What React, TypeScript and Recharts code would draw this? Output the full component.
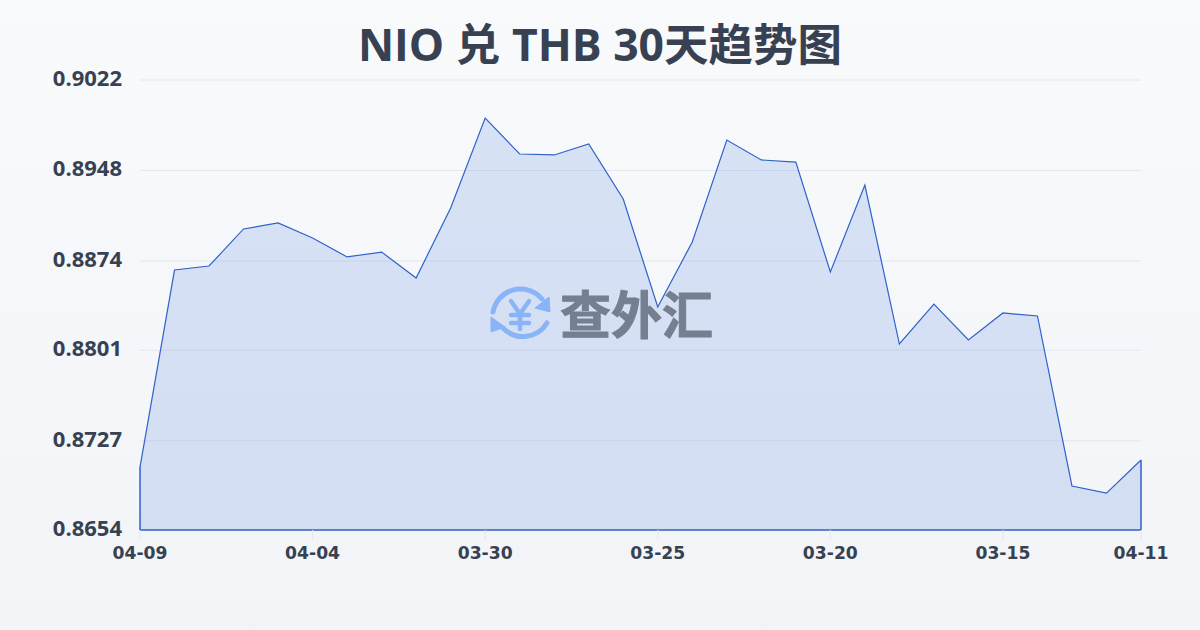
import { Area, AreaChart, CartesianGrid, ReferenceLine, XAxis, YAxis } from 'recharts';

const dates = [
  '04-09', '04-08', '04-07', '04-06', '04-05', '04-04', '04-03', '04-02', '04-01', '03-31',
  '03-30', '03-29', '03-28', '03-27', '03-26', '03-25', '03-24', '03-23', '03-22', '03-21',
  '03-20', '03-19', '03-18', '03-17', '03-16', '03-15', '03-14', '03-13', '03-12', '04-11',
];
const rates = [
  0.87055, 0.88666, 0.88699, 0.89002, 0.89051, 0.88928, 0.88773, 0.88813, 0.88601, 0.89173,
  0.89909, 0.89615, 0.89607, 0.89697, 0.89247, 0.88364, 0.88895, 0.89729, 0.89566, 0.89549,
  0.8865, 0.89361, 0.88061, 0.88388, 0.88094, 0.88315, 0.8829, 0.869, 0.86842, 0.87112,
];
const xTicks = ['04-09', '04-04', '03-30', '03-25', '03-20', '03-15', '04-11'];
const yTicks = [0.8654, 0.8727, 0.8801, 0.8874, 0.8948, 0.9022];

const data = dates.map((date, i) => ({ date, rate: rates[i] }));
const FONT = '"Open Sans", "Noto Sans CJK SC", sans-serif';
const LINE = '#2f62c9';
const TEXT = '#374151';
const ICON = '#8ab4f8';

function Watermark() {
  return (
    <svg width={1200} height={630} style={{ position: 'absolute', left: 0, top: 0, pointerEvents: 'none' }}>
      <g fill="none" stroke={ICON} strokeWidth={5} strokeLinecap="round">
        <path d="M493 312 A28 28 0 0 1 542 299" />
        <path d="M547 323 A28 28 0 0 1 503 328" />
        <path d="M511 301 L520 314 L529 301 M520 314 L520 329 M511 315 L529 315 M511 323 L529 323" strokeWidth={4.5} />
      </g>
      <path d="M549 297 L550 312 L535 308 Z" fill={ICON} stroke={ICON} strokeLinejoin="round" />
      <path d="M491 317 L491 332 L505 327 Z" fill={ICON} stroke={ICON} strokeLinejoin="round" />
      <text
        x={560}
        y={334}
        fontFamily='"Noto Sans CJK SC", sans-serif'
        fontSize={51}
        fontWeight={700}
        fill="#5b6475"
        stroke="#5b6475"
        strokeWidth={1}
        opacity={0.78}
      >
        查外汇
      </text>
    </svg>
  );
}

export default function App() {
  return (
    <div
      style={{
        position: 'absolute',
        left: 0,
        top: 0,
        width: 1200,
        height: 630,
        overflow: 'hidden',
        background: 'linear-gradient(180deg, #f8fafc 0%, #f2f4f7 100%)',
        fontFamily: FONT,
      }}
    >
      <div
        style={{
          position: 'absolute',
          left: 0,
          top: 14,
          width: 1200,
          textAlign: 'center',
          fontSize: 44.5,
          lineHeight: '60px',
          fontWeight: 700,
          color: '#374151',
        }}
      >
        NIO 兑 THB 30天趋势图
      </div>
      <div style={{ position: 'absolute', left: 0, top: 0 }}>
        <AreaChart width={1200} height={630} data={data} margin={{ top: 80, right: 59, bottom: 70, left: 0 }}>
          <CartesianGrid stroke="#e2e8f0" vertical={false} />
          <XAxis
            dataKey="date"
            ticks={xTicks}
            interval={0}
            scale="point"
            padding={{ left: 0, right: 0 }}
            height={30}
            tickSize={10}
            tickMargin={6}
            tickLine={{ stroke: '#e2e8f0' }}
            axisLine={{ stroke: LINE, strokeWidth: 1.5 }}
            tick={{ fill: TEXT, fontSize: 18, fontWeight: 700, fontFamily: '"DejaVu Sans", sans-serif', textLength: 55, lengthAdjust: 'spacingAndGlyphs' }}
          />
          <YAxis
            type="number"
            domain={[0.8654, 0.9022]}
            ticks={yTicks}
            interval={0}
            width={140}
            tickLine={false}
            axisLine={false}
            tickMargin={12}
            tickFormatter={(v: number) => v.toFixed(4)}
            tick={{ fill: TEXT, fontSize: 22, fontWeight: 700, fontFamily: '"Open Sans", sans-serif', dy: -2 }}
          />
          <Area
            type="linear"
            dataKey="rate"
            stroke={LINE}
            strokeWidth={1.2}
            fill="#2a5fd8"
            fillOpacity={0.15}
            isAnimationActive={false}
            dot={false}
            activeDot={false}
          />
          <ReferenceLine
            segment={[
              { x: dates[0], y: 0.8654 },
              { x: dates[0], y: rates[0] },
            ]}
            stroke={LINE}
            strokeWidth={1.5}
          />
          <ReferenceLine
            segment={[
              { x: dates[29], y: 0.8654 },
              { x: dates[29], y: rates[29] },
            ]}
            stroke={LINE}
            strokeWidth={1.5}
          />
        </AreaChart>
      </div>
      <Watermark />
    </div>
  );
}
